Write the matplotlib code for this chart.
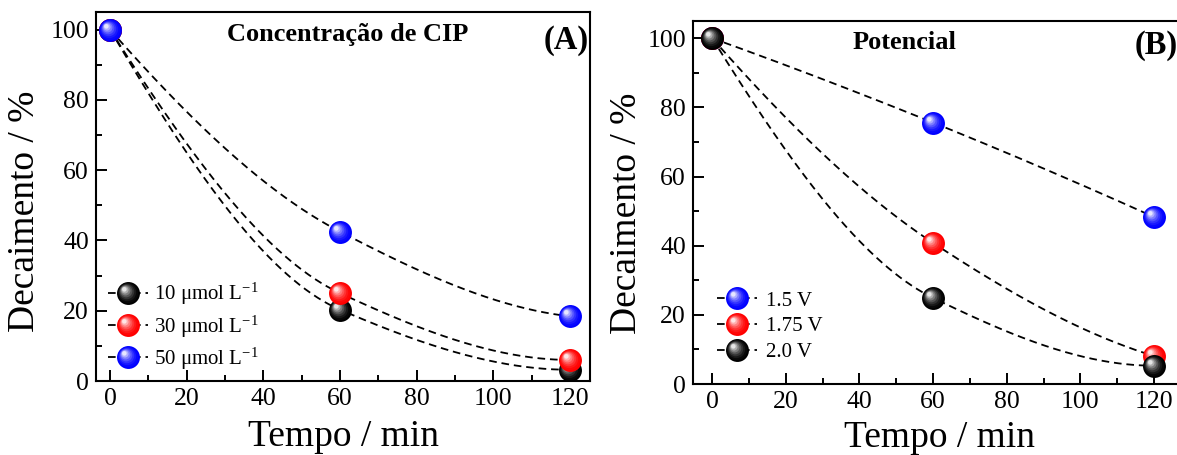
import numpy as np
import matplotlib
matplotlib.use("Agg")
import matplotlib.pyplot as plt
import matplotlib.colors as mcolors
from matplotlib.path import Path
from matplotlib.legend_handler import HandlerTuple
from matplotlib.ticker import MultipleLocator

plt.rcParams['font.family'] = ['Liberation Serif', 'DejaVu Serif']
plt.rcParams['mathtext.fontset'] = 'custom'
plt.rcParams['mathtext.rm'] = 'Liberation Serif'
plt.rcParams['mathtext.default'] = 'regular'
plt.rcParams['lines.scale_dashes'] = False

# Tempo de eletrólise (min)
tempo = [0, 60, 120]

# (A) concentração inicial de CIP
conc_labels = ['10 μmol L$^{-1}$', '30 μmol L$^{-1}$', '50 μmol L$^{-1}$']
conc_colors = ['black', 'red', 'blue']
decay_10 = [100, 20.3, 3.2]
decay_30 = [100, 25.0, 6.0]
decay_50 = [100, 42.5, 18.4]

# (B) potencial aplicado
pot_labels = ['1.5 V', '1.75 V', '2.0 V']
pot_colors = ['blue', 'red', 'black']
decay_15 = [100, 75.6, 48.3]
decay_175 = [100, 40.8, 8.1]
decay_20 = [100, 24.9, 5.3]


# Monotone cubic (PCHIP) curve used for the dashed guide lines
def pchip(x, y, xs):
    x = np.asarray(x, float)
    y = np.asarray(y, float)
    h = np.diff(x)
    d = np.diff(y) / h
    n = len(x)
    m = np.zeros(n)
    for k in range(1, n - 1):
        if d[k - 1] * d[k] > 0:
            w1 = 2 * h[k] + h[k - 1]
            w2 = h[k] + 2 * h[k - 1]
            m[k] = (w1 + w2) / (w1 / d[k - 1] + w2 / d[k])

    def end_slope(h0, h1, d0, d1):
        s = ((2 * h0 + h1) * d0 - h0 * d1) / (h0 + h1)
        if np.sign(s) != np.sign(d0):
            return 0.0
        if np.sign(d0) != np.sign(d1) and abs(s) > abs(3 * d0):
            return 3 * d0
        return s

    m[0] = end_slope(h[0], h[1], d[0], d[1])
    m[-1] = end_slope(h[-1], h[-2], d[-1], d[-2])

    idx = np.clip(np.searchsorted(x, xs) - 1, 0, n - 2)
    t = (xs - x[idx]) / h[idx]
    h00 = 2 * t**3 - 3 * t**2 + 1
    h10 = t**3 - 2 * t**2 + t
    h01 = -2 * t**3 + 3 * t**2
    h11 = t**3 - t**2
    return (h00 * y[idx] + h10 * h[idx] * m[idx]
            + h01 * y[idx + 1] + h11 * h[idx] * m[idx + 1])


# Layers of shrinking, lighter circles shifted up-left give a shaded ball
def sphere_layers(color, n=8):
    base = np.array(mcolors.to_rgb(color))
    layers = []
    for k in range(n):
        t = k / (n - 1)
        r = 1 - 0.8 * t
        c = 0.36 * t
        col = base + (1 - base) * (0.9 * t ** 1.8)
        path = Path.circle(center=(-c, c), radius=r)
        layers.append((path, c + r, tuple(col)))
    return layers


def draw_series(ax, x, y, color, order, ms=16.5):
    xs = np.linspace(min(x), max(x), 300)
    ax.plot(xs, pchip(x, y, xs), color='black', lw=1.3,
            dashes=(5.5, 3.5), zorder=2)
    leg_line, = ax.plot([], [], color='black', lw=1.3, dashes=(5.5, 3.5))
    balls = []
    for k, (path, scale, col) in enumerate(sphere_layers(color)):
        h, = ax.plot(x, y, ls='none', marker=path, ms=ms * scale,
                     mfc=col, mec='none', zorder=3 + order * 0.1 + k * 0.01)
        balls.append(h)
    return tuple([leg_line] + balls)


def style_axes(ax, xlim):
    ax.set_xlim(*xlim)
    ax.set_ylim(0, 105)
    ax.xaxis.set_major_locator(MultipleLocator(20))
    ax.xaxis.set_minor_locator(MultipleLocator(10))
    ax.yaxis.set_major_locator(MultipleLocator(20))
    ax.yaxis.set_minor_locator(MultipleLocator(10))
    ax.tick_params(which='both', direction='in', top=False, right=False,
                   labelsize=18.5, width=1.4, pad=5)
    ax.tick_params(which='major', length=8)
    ax.tick_params(which='minor', length=4)
    for s in ax.spines.values():
        s.set_linewidth(1.5)
    ax.set_xlabel('Tempo / min', fontsize=27)
    ax.set_ylabel('Decaimento / %', fontsize=27)


fig = plt.figure(figsize=(11.77, 4.55), dpi=100)
ax_a = fig.add_axes([0.0816, 0.1626, 0.4197, 0.811])
ax_b = fig.add_axes([0.5888, 0.156, 0.418, 0.798])

# Painel A
handles_a = []
for i, (vals, col) in enumerate(zip([decay_10, decay_30, decay_50], conc_colors)):
    handles_a.append(draw_series(ax_a, tempo, vals, col, i))
style_axes(ax_a, (-3.65, 125.2))
ax_a.legend(handles_a, conc_labels, loc='lower left', bbox_to_anchor=(-0.005, -0.015),
            frameon=False, fontsize=15, handlelength=1.9, handletextpad=0.3,
            labelspacing=0.3, borderaxespad=0.3,
            handler_map={tuple: HandlerTuple(ndivide=1)})
ax_a.text(0.51, 0.94, 'Concentração de CIP', transform=ax_a.transAxes,
          ha='center', va='center', fontsize=19, fontweight='bold')
ax_a.text(0.952, 0.924, '(A)', transform=ax_a.transAxes,
          ha='center', va='center', fontsize=23.5, fontweight='bold')
ax_a.yaxis.set_label_coords(-0.11, 0.46)
ax_a.xaxis.set_label_coords(0.5, -0.105)

# Painel B
handles_b = []
for i, (vals, col) in enumerate(zip([decay_15, decay_175, decay_20], pot_colors)):
    handles_b.append(draw_series(ax_b, tempo, vals, col, i))
style_axes(ax_b, (-5.2, 128.4))
ax_b.legend(handles_b, pot_labels, loc='lower left', bbox_to_anchor=(0.02, 0.02),
            frameon=False, fontsize=15, handlelength=1.9, handletextpad=0.45,
            labelspacing=0.3, borderaxespad=0.3,
            handler_map={tuple: HandlerTuple(ndivide=1)})
ax_b.text(0.43, 0.94, 'Potencial', transform=ax_b.transAxes,
          ha='center', va='center', fontsize=19, fontweight='bold')
ax_b.text(0.942, 0.932, '(B)', transform=ax_b.transAxes,
          ha='center', va='center', fontsize=23.5, fontweight='bold')
ax_b.yaxis.set_label_coords(-0.1, 0.47)
ax_b.xaxis.set_label_coords(0.5, -0.1)

fig.savefig('out.png', dpi=100)
